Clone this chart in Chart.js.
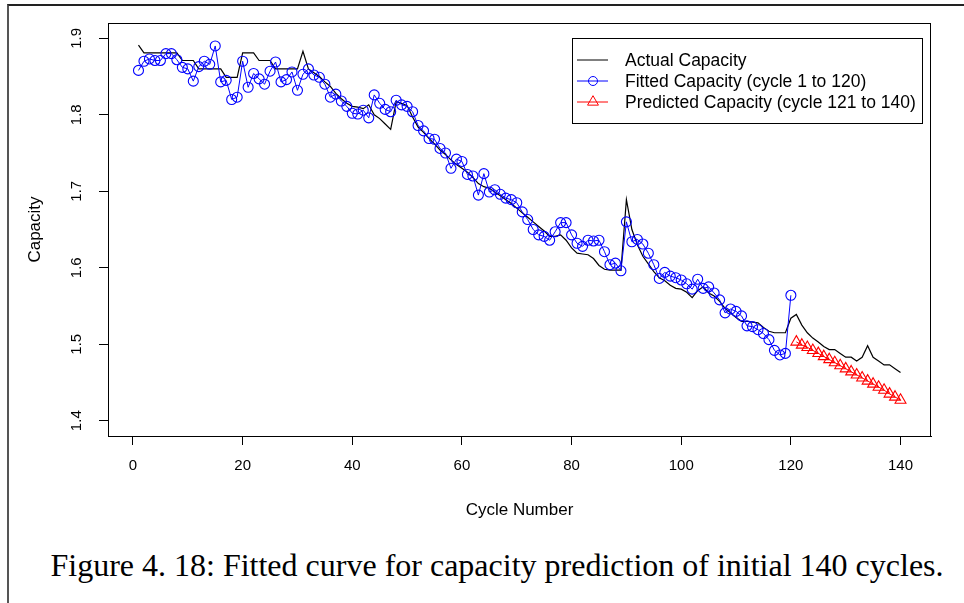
<!DOCTYPE html>
<html>
<head>
<meta charset="utf-8">
<title>Capacity prediction</title>
<script src="https://cdn.jsdelivr.net/npm/chart.js@4.4.0/dist/chart.umd.min.js"></script>
<style>
  html, body { margin: 0; padding: 0; background: #fff; overflow: hidden; }
  #frame { position: absolute; left: 7px; top: 4px; width: 960px; height: 600px;
           border-left: 2px solid #555; border-top: 2px solid #222; }
  #wrap { position: absolute; left: 0; top: 0; width: 964px; height: 521px; }
  #caption { position: absolute; left: 0; top: 547px; width: 994px; text-align: center;
             font-family: "Liberation Serif", "Times New Roman", serif; font-size: 32px; color: #000; }
</style>
</head>
<body>
<div id="frame"></div>
<div id="wrap"><canvas id="myChart" width="964" height="521"></canvas></div>
<div id="caption">Figure 4. 18: Fitted curve for capacity prediction of initial 140 cycles.</div>
<script>
// measured capacity, cycles 1-140
var actual = [
  1.891, 1.881, 1.881, 1.881, 1.881, 1.881, 1.881, 1.881, 1.871, 1.871,
  1.871, 1.860, 1.860, 1.860, 1.860, 1.860, 1.849, 1.849, 1.849, 1.881,
  1.881, 1.881, 1.871, 1.871, 1.871, 1.860, 1.860, 1.860, 1.860, 1.860,
  1.883, 1.860, 1.855, 1.850, 1.843, 1.837, 1.828, 1.821, 1.815, 1.811,
  1.810, 1.808, 1.813, 1.800, 1.795, 1.788, 1.781, 1.817, 1.815, 1.812,
  1.797, 1.784, 1.777, 1.769, 1.762, 1.754, 1.748, 1.741, 1.735, 1.730,
  1.725, 1.718, 1.710, 1.706, 1.704, 1.699, 1.694, 1.689, 1.684, 1.678,
  1.672, 1.666, 1.660, 1.654, 1.648, 1.641, 1.641, 1.643, 1.636, 1.626,
  1.619, 1.618, 1.617, 1.612, 1.603, 1.598, 1.597, 1.597, 1.597, 1.689,
  1.650, 1.630, 1.615, 1.605, 1.595, 1.587, 1.583, 1.577, 1.573, 1.572,
  1.568, 1.561, 1.570, 1.575, 1.567, 1.563, 1.556, 1.547, 1.541, 1.535,
  1.530, 1.530, 1.529, 1.528, 1.522, 1.517, 1.515, 1.515, 1.515, 1.534,
  1.539, 1.525, 1.515, 1.508, 1.503, 1.497, 1.493, 1.493, 1.488, 1.483,
  1.483, 1.478, 1.483, 1.498, 1.483, 1.478, 1.473, 1.473, 1.468, 1.463
];

// model fit, cycles 1-120
var fitted = [
  1.858, 1.870, 1.873, 1.871, 1.871, 1.880, 1.880, 1.872, 1.862, 1.860,
  1.844, 1.863, 1.870, 1.866, 1.890, 1.843, 1.845, 1.820, 1.823, 1.870,
  1.836, 1.854, 1.847, 1.840, 1.857, 1.869, 1.843, 1.846, 1.856, 1.832,
  1.853, 1.860, 1.852, 1.849, 1.840, 1.823, 1.827, 1.818, 1.811, 1.802,
  1.801, 1.806, 1.796, 1.826, 1.815, 1.807, 1.804, 1.819, 1.813, 1.811,
  1.804, 1.786, 1.779, 1.769, 1.768, 1.756, 1.750, 1.730, 1.742, 1.739,
  1.722, 1.720, 1.695, 1.723, 1.699, 1.702, 1.696, 1.691, 1.689, 1.685,
  1.673, 1.663, 1.650, 1.643, 1.641, 1.636, 1.647, 1.659, 1.659, 1.643,
  1.632, 1.628, 1.636, 1.635, 1.636, 1.621, 1.604, 1.606, 1.596, 1.660,
  1.634, 1.637, 1.631, 1.619, 1.604, 1.586, 1.594, 1.589, 1.587, 1.584,
  1.579, 1.572, 1.585, 1.573, 1.575, 1.567, 1.558, 1.541, 1.546, 1.543,
  1.537, 1.524, 1.523, 1.519, 1.514, 1.506, 1.492, 1.486, 1.488, 1.564
];

// forecast, cycles 121-140
var predicted = [
  1.503, 1.499, 1.496, 1.492, 1.488, 1.484, 1.480, 1.476, 1.472, 1.468,
  1.464, 1.460, 1.456, 1.452, 1.448, 1.444, 1.440, 1.435, 1.431, 1.427
];

var xTicks = [0, 20, 40, 60, 80, 100, 120, 140];
var yTicks = [1.4, 1.5, 1.6, 1.7, 1.8, 1.9];

var FONT = 'Liberation Sans';

function toPoints(values, firstCycle) {
  return values.map(function(v, i) { return { x: firstCycle + i, y: v }; });
}

// R-style closed box round the plot region
var boxPlugin = {
  id: 'box',
  afterDraw: function(chart) {
    var a = chart.chartArea, ctx = chart.ctx;
    ctx.save();
    ctx.strokeStyle = '#000';
    ctx.lineWidth = 1;
    ctx.strokeRect(a.left + 0.5, a.top + 0.5, a.right - a.left - 1, a.bottom - a.top);
    ctx.restore();
  }
};

// y tick labels written parallel to the axis
var yLabelPlugin = {
  id: 'yLabels',
  afterDraw: function(chart) {
    var s = chart.scales.y, ctx = chart.ctx;
    ctx.save();
    ctx.fillStyle = '#000';
    ctx.font = '15px ' + FONT;
    ctx.textAlign = 'center';
    ctx.textBaseline = 'middle';
    yTicks.forEach(function(v) {
      ctx.save();
      ctx.translate(chart.chartArea.left - 31, s.getPixelForValue(v));
      ctx.rotate(-Math.PI / 2);
      ctx.fillText(v.toFixed(1), 0, 0);
      ctx.restore();
    });
    ctx.restore();
  }
};

// boxed legend in the top right corner
var legendPlugin = {
  id: 'boxLegend',
  afterDraw: function(chart) {
    var a = chart.chartArea, ctx = chart.ctx;
    var w = 350, h = 85;
    var x0 = a.right - 9 - w, y0 = a.top + 14.5;
    ctx.save();
    ctx.strokeStyle = '#000';
    ctx.lineWidth = 1;
    ctx.strokeRect(Math.round(x0) + 0.5, Math.round(y0) + 0.5, w, h);
    ctx.font = '17.5px ' + FONT;
    ctx.textBaseline = 'middle';
    var rows = [chart.data.datasets[0], chart.data.datasets[1], chart.data.datasets[2]];
    rows.forEach(function(ds, i) {
      var y = y0 + 22.5 + i * 21;
      var lx = x0 + 5, mx = x0 + 21;
      ctx.strokeStyle = ds.borderColor;
      ctx.lineWidth = 1;
      ctx.beginPath();
      ctx.moveTo(lx, y);
      ctx.lineTo(lx + 31, y);
      ctx.stroke();
      if (ds.pointRadius > 0) {
        ctx.beginPath();
        if (ds.pointStyle === 'triangle') {
          var r = ds.pointRadius;
          ctx.moveTo(mx, y - r);
          ctx.lineTo(mx + r * 0.866, y + r / 2);
          ctx.lineTo(mx - r * 0.866, y + r / 2);
          ctx.closePath();
        } else {
          ctx.arc(mx, y, ds.pointRadius - 0.5, 0, Math.PI * 2);
        }
        ctx.stroke();
      }
      ctx.fillStyle = '#000';
      ctx.fillText(ds.label, x0 + 53, y + 1);
    });
    ctx.restore();
  }
};

var ctx = document.getElementById('myChart').getContext('2d');
var chart = new Chart(ctx, {
  type: 'line',
  data: {
    datasets: [{
      label: 'Actual Capacity',
      data: toPoints(actual, 1),
      borderColor: '#000000',
      borderWidth: 1.2,
      pointRadius: 0,
      fill: false,
      order: 3
    }, {
      label: 'Fitted Capacity (cycle 1 to 120)',
      data: toPoints(fitted, 1),
      borderColor: '#0000ff',
      borderWidth: 1,
      pointStyle: 'circle',
      pointRadius: 5,
      pointBorderWidth: 1.1,
      pointBackgroundColor: 'rgba(0,0,0,0)',
      fill: false,
      order: 2
    }, {
      label: 'Predicted Capacity (cycle 121 to 140)',
      data: toPoints(predicted, 121),
      borderColor: '#ff0000',
      borderWidth: 1,
      pointStyle: 'triangle',
      pointRadius: 6.3,
      pointBorderWidth: 1.1,
      pointBackgroundColor: 'rgba(0,0,0,0)',
      fill: false,
      order: 1
    }]
  },
  options: {
    responsive: false,
    animation: false,
    devicePixelRatio: 1,
    layout: { padding: { left: 25, top: 23, right: 33, bottom: 0 } },
    plugins: {
      legend: { display: false },
      tooltip: { enabled: false }
    },
    elements: { line: { tension: 0 } },
    scales: {
      x: {
        type: 'linear',
        min: -4.56,
        max: 145.56,
        afterBuildTicks: function(s) { s.ticks = xTicks.map(function(v) { return { value: v }; }); },
        afterFit: function(s) { s.height = 85; },
        grid: { drawOnChartArea: false, drawTicks: true, tickLength: 9, tickColor: '#000', tickWidth: 1 },
        border: { display: true, color: '#000', width: 1 },
        ticks: { color: '#000', font: { family: FONT, size: 15 }, padding: 12, maxRotation: 0, autoSkip: false },
        title: { display: true, text: 'Cycle Number', color: '#000', font: { family: FONT, size: 17 }, padding: 0 }
      },
      y: {
        type: 'linear',
        min: 1.38,
        max: 1.92,
        afterBuildTicks: function(s) { s.ticks = yTicks.map(function(v) { return { value: v }; }); },
        afterFit: function(s) { s.width = 83; },
        grid: { drawOnChartArea: false, drawTicks: true, tickLength: 9, tickColor: '#000', tickWidth: 1 },
        border: { display: true, color: '#000', width: 1 },
        ticks: { display: false },
        title: { display: true, text: 'Capacity', color: '#000', font: { family: FONT, size: 17 }, padding: 0 }
      }
    }
  },
  plugins: [boxPlugin, yLabelPlugin, legendPlugin]
});
</script>
</body>
</html>
